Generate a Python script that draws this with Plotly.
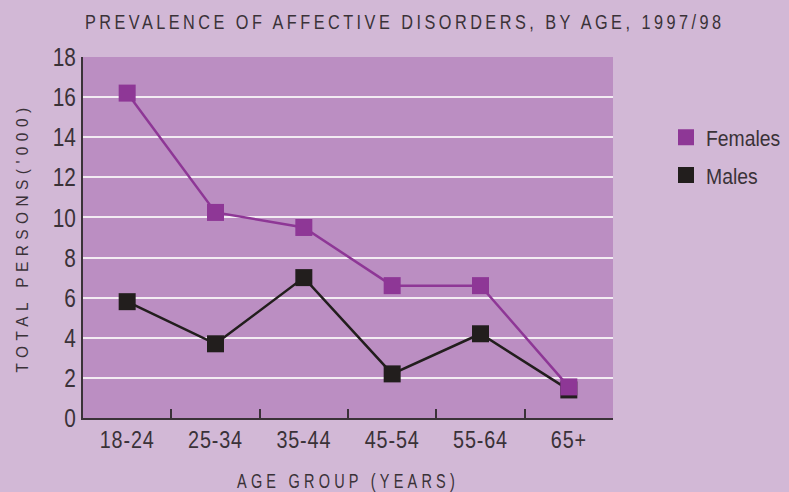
import plotly.graph_objects as go

# Prevalence of affective disorders by age group, 1997/98 ('000 persons)
age_groups = ["18-24", "25-34", "35-44", "45-54", "55-64", "65+"]
females = [16.2, 10.25, 9.5, 6.6, 6.6, 1.55]
males = [5.8, 3.7, 7.0, 2.2, 4.2, 1.4]
y_ticks = [0, 2, 4, 6, 8, 10, 12, 14, 16, 18]

PAGE_BG = "#D2B8D6"
PLOT_BG = "#BB8EC2"
FEMALE = "#8E3796"
MALE = "#221E1D"
INK = "#3A3238"
FONT = "Liberation Sans, Arial, sans-serif"

fig = go.Figure()
# series lines (legend shows markers only, added below)
fig.add_trace(go.Scatter(
    x=age_groups, y=males, name="Males", mode="lines+markers", showlegend=False,
    line=dict(color=MALE, width=2.5),
    marker=dict(symbol="square", size=17, color=MALE),
))
fig.add_trace(go.Scatter(
    x=age_groups, y=females, name="Females", mode="lines+markers", showlegend=False,
    line=dict(color=FEMALE, width=2.5),
    marker=dict(symbol="square", size=17, color=FEMALE),
))
# legend entries: square swatches only
for name, color in [("Females", FEMALE), ("Males", MALE)]:
    fig.add_trace(go.Scatter(
        x=[None], y=[None], name=name, mode="markers", legendgroup=name,
        marker=dict(symbol="square", size=17, color=color),
    ))

fig.update_layout(
    width=789, height=492,
    margin=dict(l=83, r=176, t=57, b=74, autoexpand=False),
    paper_bgcolor=PAGE_BG, plot_bgcolor=PLOT_BG,
    font=dict(family=FONT, color=INK),
    title=dict(
        text="PREVALENCE OF AFFECTIVE DISORDERS, BY AGE, 1997/98",
        x=0.513, xref="container", xanchor="center",
        y=0.942, yref="container", yanchor="bottom",
        font=dict(size=21, color=INK, family=FONT),
    ),
    showlegend=True,
    legend=dict(
        x=1.1, y=0.835, xanchor="left", yanchor="top",
        font=dict(size=22, color=INK, family=FONT),
        bgcolor="rgba(0,0,0,0)", itemsizing="trace",
        tracegroupgap=6,
    ),
    xaxis=dict(
        type="category", range=[-0.5, 5.5],
        showline=True, linecolor=INK, linewidth=2,
        ticks="inside", tickson="boundaries", ticklen=9, tickcolor=INK, tickwidth=1.5,
        showgrid=False,
        tickfont=dict(size=23, color=INK, family=FONT),
        title=dict(text="AGE GROUP (YEARS)", standoff=22,
                   font=dict(size=20.5, color=INK, family=FONT)),
    ),
    yaxis=dict(
        range=[0, 18], tickvals=y_ticks,
        showline=True, linecolor=INK, linewidth=2,
        ticks="", showgrid=True, gridcolor="#F3ECF3", gridwidth=1.5,
        zeroline=False,
        tickfont=dict(size=26, color=INK, family=FONT),
        title=dict(text="TOTAL PERSONS('000)", standoff=14,
                   font=dict(size=17, color=INK, family=FONT)),
    ),
)

# condensed, letter-spaced lettering: spacing first, then squeeze the glyphs
condense_js = """
var gd = document.getElementsByClassName('plotly-graph-div')[0];
function fit(el, spacing, opts) {
  if (!el || el.getAttribute('data-fit')) return;
  el.style.letterSpacing = spacing + 'px';
  var w = el.getComputedTextLength();
  var target = opts.width ? opts.width : w * opts.scale;
  el.setAttribute('textLength', target);
  el.setAttribute('lengthAdjust', 'spacingAndGlyphs');
  el.setAttribute('data-fit', '1');
}
// the headline is squeezed with a horizontal scale about its centre
function squeezeTitle(el, spacing, width) {
  if (!el || el.getAttribute('data-fit')) return;
  el.style.letterSpacing = spacing + 'px';
  var w = el.getComputedTextLength();
  var cx = parseFloat(el.getAttribute('x'));
  var s = width / w;
  el.setAttribute('transform',
    'translate(' + cx + ',0) scale(' + s + ',1) translate(' + (-cx) + ',0)');
  el.setAttribute('data-fit', '1');
}
function condense() {
  gd.querySelectorAll('.gtitle').forEach(function(t){ squeezeTitle(t, 4.5, 640); });
  gd.querySelectorAll('.xtitle').forEach(function(t){ fit(t, 6, {width: 222}); });
  gd.querySelectorAll('.ytitle').forEach(function(t){ fit(t, 6, {width: 270}); });
  gd.querySelectorAll('.xtick text').forEach(function(t){ fit(t, 1, {scale: 0.86}); });
  gd.querySelectorAll('.ytick text').forEach(function(t){ fit(t, 0, {scale: 0.8}); });
  gd.querySelectorAll('.legendtext').forEach(function(t){ fit(t, 0, {scale: 0.88}); });
}
condense();
gd.on('plotly_afterplot', condense);
"""

fig.write_html("out.html", post_script=condense_js)
